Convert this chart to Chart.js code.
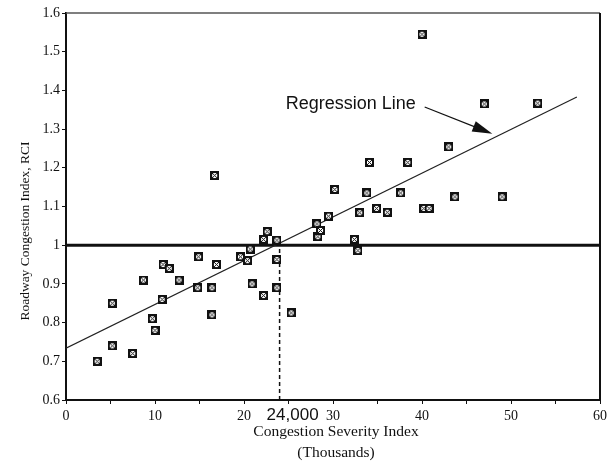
<!DOCTYPE html>
<html>
<head>
<meta charset="utf-8">
<script src="https://cdn.jsdelivr.net/npm/chart.js@4.4.0/dist/chart.umd.min.js"></script>
<style>
  html, body { margin: 0; padding: 0; background: #fff; }
  #wrap { width: 614px; height: 461px; }
</style>
</head>
<body>
<div id="wrap"><canvas id="rciChart" width="614" height="461"></canvas></div>
<script>
// Congestion Severity Index (thousands) and Roadway Congestion Index per urban area
const csiValues = [3.5, 5.2, 5.2, 7.5, 8.7, 9.7, 10.0, 10.8, 10.9, 11.6,
    12.7, 14.8, 14.9, 16.4, 16.4, 16.9, 16.7, 19.6, 20.4, 20.7,
    20.9, 22.2, 22.2, 22.6, 23.7, 23.7, 23.7, 25.3, 28.2, 28.3,
    28.6, 29.5, 30.2, 32.4, 32.8, 33.0, 33.8, 34.1, 34.9, 36.1,
    37.6, 38.4, 40.0, 40.2, 40.8, 43.0, 43.7, 47.0, 49.0, 53.0];
const rciValues = [0.70, 0.74, 0.85, 0.72, 0.91, 0.81, 0.78, 0.86, 0.95, 0.94,
    0.91, 0.89, 0.97, 0.89, 0.82, 0.95, 1.18, 0.97, 0.96, 0.99,
    0.90, 0.87, 1.015, 1.035, 1.013, 0.963, 0.89, 0.825, 1.055, 1.022,
    1.038, 1.075, 1.144, 1.015, 0.986, 1.084, 1.135, 1.214, 1.095, 1.085,
    1.135, 1.214, 1.545, 1.095, 1.095, 1.254, 1.125, 1.365, 1.125, 1.367];

// regression line end points (x, y)
const regX = [0, 57.4];
const regY = [0.734, 1.383];

// RCI = 1 threshold and the 24,000 CSI marker
const thresholdRci = 1.0;
const thresholdCsi = 24;

const xTitle = 'Congestion Severity Index';
const xSubTitle = '(Thousands)';
const yTitle = 'Roadway Congestion Index, RCI';
const regLabel = 'Regression Line';
const thresholdLabel = '24,000';

// box-with-cross marker
function makeMarker() {
    const c = document.createElement('canvas');
    c.width = 9; c.height = 9;
    const g = c.getContext('2d');
    g.fillStyle = '#111';
    g.fillRect(0, 0, 9, 9);
    g.fillStyle = '#fff';
    g.fillRect(2, 2, 5, 5);
    g.strokeStyle = '#111';
    g.lineWidth = 1;
    g.beginPath();
    g.moveTo(2, 2); g.lineTo(7, 7);
    g.moveTo(7, 2); g.lineTo(2, 7);
    g.stroke();
    return c;
}

const points = csiValues.map((x, i) => ({ x: x, y: rciValues[i] }));

const textPlugin = {
    id: 'textPlugin',
    afterDraw(chart) {
        const ctx = chart.ctx;
        const xs = chart.scales.x;
        const ys = chart.scales.y;
        const area = chart.chartArea;
        ctx.save();

        // top / right frame
        ctx.strokeStyle = '#555';
        ctx.lineWidth = 1.5;
        ctx.beginPath();
        ctx.moveTo(area.left, area.top);
        ctx.lineTo(area.right, area.top);
        ctx.stroke();
        ctx.strokeStyle = '#111';
        ctx.lineWidth = 2;
        ctx.beginPath();
        ctx.moveTo(area.right, area.top);
        ctx.lineTo(area.right, area.bottom);
        ctx.stroke();

        ctx.fillStyle = '#111';
        // axis titles
        ctx.font = '15.5px "Liberation Serif", serif';
        ctx.textAlign = 'center';
        ctx.textBaseline = 'middle';
        ctx.fillText(xTitle, (area.left + area.right) / 2 + 3, 432);
        ctx.fillText(xSubTitle, (area.left + area.right) / 2 + 3, 453);

        ctx.font = '13.5px "Liberation Serif", serif';
        ctx.save();
        ctx.translate(25, 231);
        ctx.rotate(-Math.PI / 2);
        ctx.fillText(yTitle, 0, 0);
        ctx.restore();

        // 24,000 label
        ctx.font = '17px "Liberation Sans", sans-serif';
        ctx.textAlign = 'left';
        ctx.textBaseline = 'alphabetic';
        ctx.fillText(thresholdLabel, xs.getPixelForValue(thresholdCsi) - 13, 420);

        // regression label and arrow
        ctx.font = '18px "Liberation Sans", sans-serif';
        ctx.textAlign = 'center';
        ctx.textBaseline = 'middle';
        ctx.fillText(regLabel, xs.getPixelForValue(32.0), ys.getPixelForValue(1.365));

        const x1 = xs.getPixelForValue(40.3), y1 = ys.getPixelForValue(1.357);
        const x2 = xs.getPixelForValue(47.9), y2 = ys.getPixelForValue(1.288);
        const ang = Math.atan2(y2 - y1, x2 - x1);
        ctx.strokeStyle = '#111';
        ctx.lineWidth = 1.2;
        ctx.beginPath();
        ctx.moveTo(x1, y1);
        ctx.lineTo(x2 - 14 * Math.cos(ang), y2 - 14 * Math.sin(ang));
        ctx.stroke();
        ctx.beginPath();
        ctx.moveTo(x2, y2);
        ctx.lineTo(x2 - 20 * Math.cos(ang) + 5.5 * Math.sin(ang), y2 - 20 * Math.sin(ang) - 5.5 * Math.cos(ang));
        ctx.lineTo(x2 - 20 * Math.cos(ang) - 5.5 * Math.sin(ang), y2 - 20 * Math.sin(ang) + 5.5 * Math.cos(ang));
        ctx.closePath();
        ctx.fill();

        ctx.restore();
    }
};

new Chart(document.getElementById('rciChart'), {
    type: 'scatter',
    data: {
        datasets: [
            {
                label: 'RCI',
                data: points,
                pointStyle: makeMarker(),
                order: 0
            },
            {
                type: 'line',
                label: 'Regression',
                data: regX.map((x, i) => ({ x: x, y: regY[i] })),
                borderColor: '#222',
                borderWidth: 1.2,
                pointRadius: 0,
                fill: false,
                order: 1
            },
            {
                type: 'line',
                label: 'RCI = 1',
                data: [{ x: 0, y: thresholdRci }, { x: 60, y: thresholdRci }],
                borderColor: '#111',
                borderWidth: 3,
                pointRadius: 0,
                fill: false,
                order: 2
            },
            {
                type: 'line',
                label: 'CSI 24,000',
                data: [{ x: thresholdCsi, y: 0.6 }, { x: thresholdCsi, y: thresholdRci }],
                borderColor: '#111',
                borderWidth: 1.5,
                borderDash: [4, 3],
                pointRadius: 0,
                fill: false,
                order: 3
            }
        ]
    },
    options: {
        responsive: false,
        animation: false,
        events: [],
        layout: { padding: { left: 0, top: 13, right: 14, bottom: 0 } },
        plugins: {
            legend: { display: false },
            tooltip: { enabled: false }
        },
        scales: {
            x: {
                type: 'linear',
                min: 0,
                max: 60,
                afterFit(scale) { scale.height = 61; },
                border: { display: true, color: '#111', width: 2 },
                grid: { drawOnChartArea: false, drawTicks: true, tickLength: 4, tickColor: '#111' },
                ticks: {
                    stepSize: 5,
                    padding: 4,
                    maxRotation: 0,
                    color: '#111',
                    font: { family: '"Liberation Serif", serif', size: 14 },
                    callback: v => (v % 10 === 0 ? String(v) : '')
                }
            },
            y: {
                type: 'linear',
                min: 0.6,
                max: 1.6,
                afterFit(scale) { scale.width = 66; },
                border: { display: true, color: '#111', width: 2 },
                grid: { drawOnChartArea: false, drawTicks: true, tickLength: 4, tickColor: '#111' },
                ticks: {
                    stepSize: 0.1,
                    padding: 2,
                    color: '#111',
                    font: { family: '"Liberation Serif", serif', size: 14 },
                    callback: v => String(Math.round(v * 10) / 10)
                }
            }
        }
    },
    plugins: [textPlugin]
});
</script>
</body>
</html>
